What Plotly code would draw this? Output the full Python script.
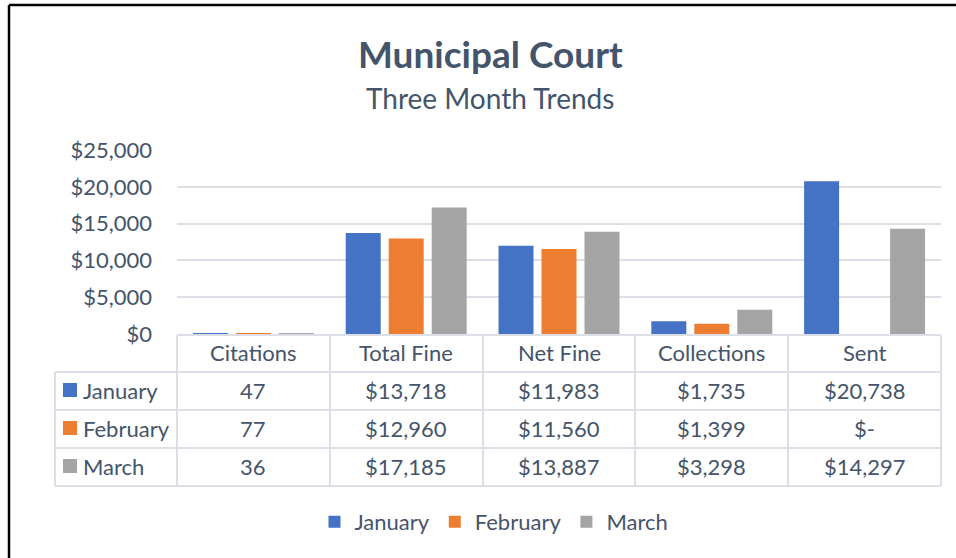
import plotly.graph_objects as go

categories = ["Citations", "Total Fine", "Net Fine", "Collections", "Sent"]
months = ["January", "February", "March"]
january = [47, 13718, 11983, 1735, 20738]
february = [77, 12960, 11560, 1399, 0]
march = [36, 17185, 13887, 3298, 14297]
colors = ["#4472C4", "#ED7D31", "#A5A5A5"]
tick_vals = [0, 5000, 10000, 15000, 20000, 25000]
tick_text = ["$0", "$5,000", "$10,000", "$15,000", "$20,000", "$25,000"]

series = [january, february, march]

W, H = 956, 558
L, R, T, B = 177, 15, 150, 224
PW, PH = W - L - R, H - T - B
FONT = "Lato"
TXT = "#44546A"
GRID = "#DCE0E6"
FS = 22


def px_x(p):
    return (p - L) / PW


def px_y(p):
    return (H - B - p) / PH


def fmt(cat, v):
    if cat == "Citations":
        return f"{v:,}"
    if v == 0:
        return "$-"
    return f"${v:,}"


fig = go.Figure()
for name, vals, col in zip(months, series, colors):
    fig.add_trace(go.Bar(x=categories, y=vals, name=name, marker=dict(color=col, line=dict(width=0))))

shapes = []
annotations = []

# table geometry (pixels)
col_edges = [177, 330, 483, 635, 788, 941]
row_edges = [335, 372, 410, 448, 486]
left_edge = 55

shapes.append(dict(type="line", xref="paper", yref="paper", x0=px_x(177), x1=px_x(941),
                   y0=px_y(row_edges[0]), y1=px_y(row_edges[0]), line=dict(color=GRID, width=2)))
for r in row_edges[1:]:
    shapes.append(dict(type="line", xref="paper", yref="paper", x0=px_x(left_edge), x1=px_x(941),
                       y0=px_y(r), y1=px_y(r), line=dict(color=GRID, width=2)))
for c in col_edges:
    shapes.append(dict(type="line", xref="paper", yref="paper", x0=px_x(c), x1=px_x(c),
                       y0=px_y(row_edges[0]), y1=px_y(row_edges[-1]), line=dict(color=GRID, width=2)))
shapes.append(dict(type="line", xref="paper", yref="paper", x0=px_x(left_edge), x1=px_x(left_edge),
                   y0=px_y(row_edges[1]), y1=px_y(row_edges[-1]), line=dict(color=GRID, width=2)))

hy = (row_edges[0] + row_edges[1]) / 2 - 1
for cat in categories:
    annotations.append(dict(x=cat, xref="x", y=px_y(hy), yref="paper", text=cat, showarrow=False,
                            font=dict(family=FONT, size=FS, color=TXT), xanchor="center", yanchor="middle"))

for i, (name, vals, col) in enumerate(zip(months, series, colors)):
    cy = (row_edges[i + 1] + row_edges[i + 2]) / 2 - 1
    shapes.append(dict(type="rect", xref="paper", yref="paper", x0=px_x(63), x1=px_x(77),
                       y0=px_y(cy - 7), y1=px_y(cy + 7), fillcolor=col, line=dict(width=0)))
    annotations.append(dict(x=px_x(81), xref="paper", y=px_y(cy), yref="paper", text=name, showarrow=False,
                            font=dict(family=FONT, size=FS, color=TXT), xanchor="left", yanchor="middle"))
    for cat, v in zip(categories, vals):
        annotations.append(dict(x=cat, xref="x", y=px_y(cy), yref="paper", text=fmt(cat, v), showarrow=False,
                                font=dict(family=FONT, size=FS, color=TXT), xanchor="center", yanchor="middle"))

# frame
shapes.append(dict(type="line", xref="paper", yref="paper", x0=px_x(9), x1=px_x(960),
                   y0=px_y(5), y1=px_y(5), line=dict(color="black", width=2.5)))
shapes.append(dict(type="line", xref="paper", yref="paper", x0=px_x(9), x1=px_x(9),
                   y0=px_y(5), y1=px_y(562), line=dict(color="black", width=2.5)))

annotations.append(dict(x=px_x(490), xref="paper", y=px_y(53), yref="paper", text="<b>Municipal Court</b>",
                        showarrow=False, font=dict(family=FONT, size=37, color=TXT), xanchor="center", yanchor="middle"))
annotations.append(dict(x=px_x(490), xref="paper", y=px_y(98), yref="paper", text="Three Month Trends",
                        showarrow=False, font=dict(family=FONT, size=28, color=TXT), xanchor="center", yanchor="middle"))

fig.update_layout(
    width=W, height=H,
    margin=dict(l=L, r=R, t=T, b=B),
    paper_bgcolor="white", plot_bgcolor="white",
    barmode="group", bargap=0.156, bargroupgap=0.186,
    font=dict(family=FONT, size=FS, color=TXT),
    shapes=shapes, annotations=annotations,
    legend=dict(orientation="h", x=px_x(494), y=px_y(522), xanchor="center", yanchor="middle",
                font=dict(family=FONT, size=FS, color=TXT), itemwidth=30),
    xaxis=dict(showticklabels=False, showgrid=False, zeroline=False, showline=False, ticks=""),
    yaxis=dict(range=[0, 25000], tickvals=tick_vals, ticktext=tick_text, showgrid=True, gridcolor=GRID,
               gridwidth=2, zeroline=False, showline=False, ticks="", ticklabelstandoff=24,
               tickfont=dict(family=FONT, size=FS, color=TXT)),
)

fig.write_html("out.html")
